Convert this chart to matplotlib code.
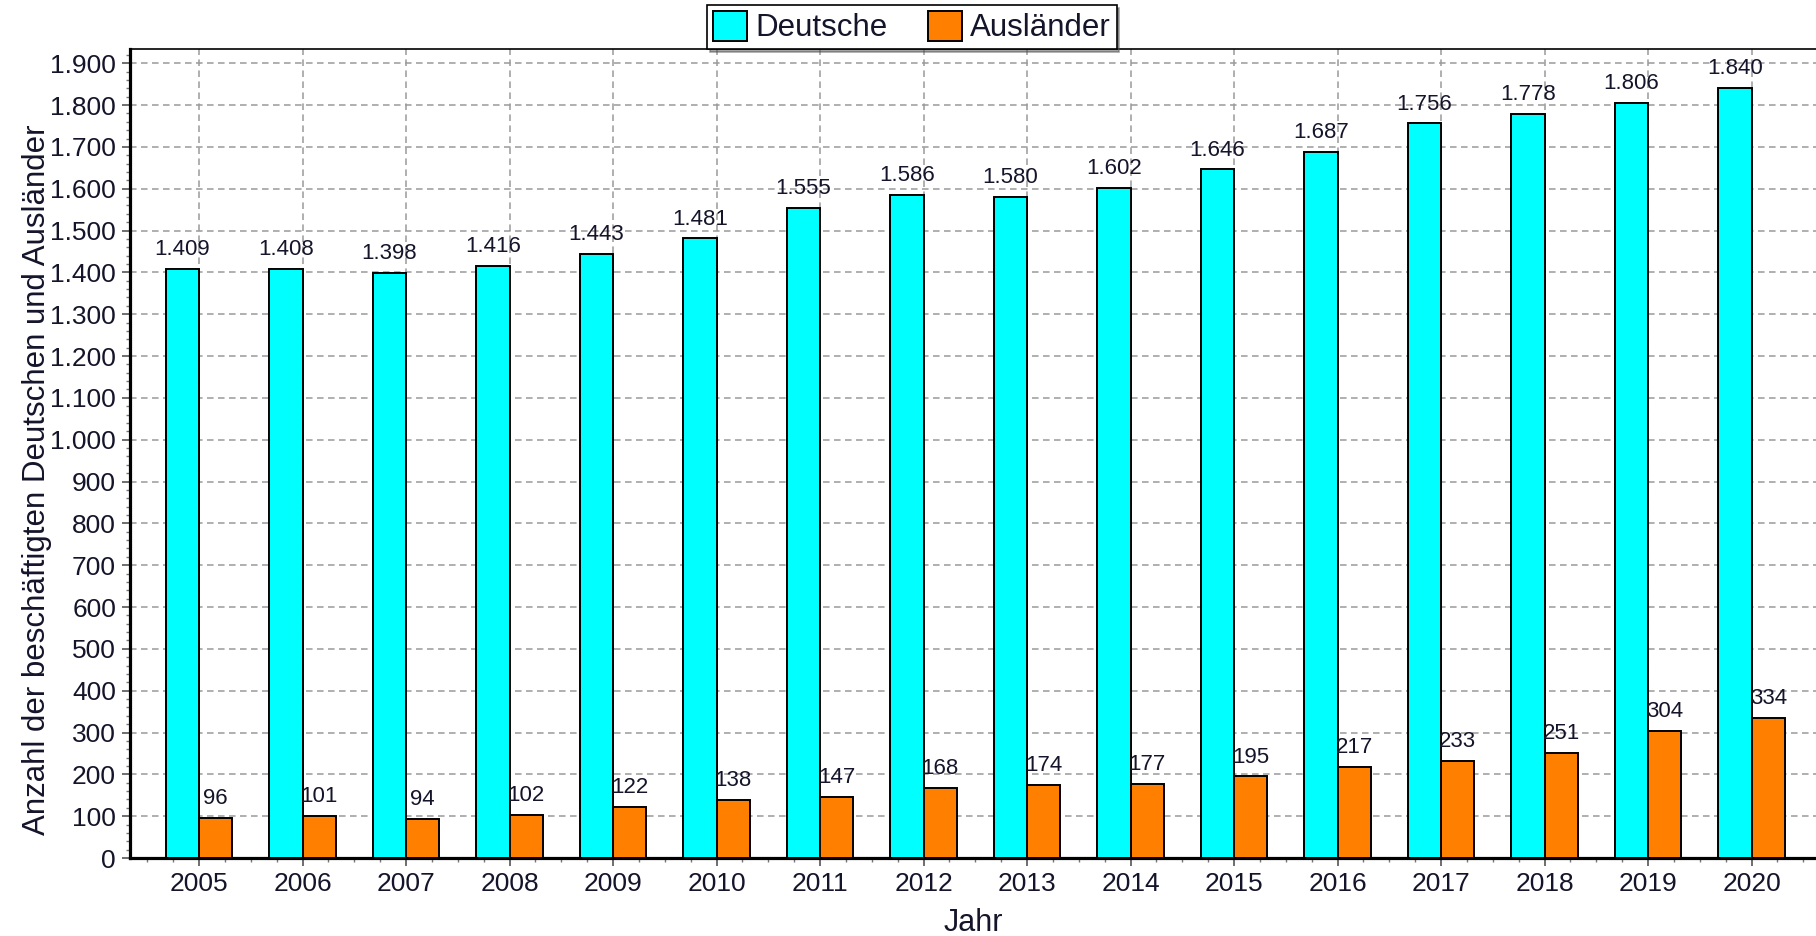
import numpy as np
import matplotlib
matplotlib.use("Agg")
import matplotlib.pyplot as plt
from matplotlib.ticker import FuncFormatter, MultipleLocator

# ==========================
# DATEN
# ==========================

jahre = [2005, 2006, 2007, 2008, 2009, 2010, 2011, 2012,
         2013, 2014, 2015, 2016, 2017, 2018, 2019, 2020]
deutsche = [1409, 1408, 1398, 1416, 1443, 1481, 1555, 1586,
            1580, 1602, 1646, 1687, 1756, 1778, 1806, 1840]
auslaender = [96, 101, 94, 102, 122, 138, 147, 168,
              174, 177, 195, 217, 233, 251, 304, 334]

CYAN = "#00FFFF"
ORANGE = "#FF8000"
TEXT = "#14142a"
GRID = "#9a9a9a"

plt.rcParams["font.family"] = ["Liberation Sans", "DejaVu Sans"]

fig = plt.figure(figsize=(18.16, 9.36), dpi=100)
ax = fig.add_axes([130 / 1816, 78 / 936, 1686 / 1816, 809 / 936])

x = np.array(jahre, dtype=float)
w = 0.322
b1 = ax.bar(x, deutsche, width=-w, align="edge", color=CYAN,
            edgecolor="black", linewidth=1.4, label="Deutsche", zorder=3)
b2 = ax.bar(x, auslaender, width=w, align="edge", color=ORANGE,
            edgecolor="black", linewidth=1.4, label="Ausländer", zorder=3)


def fmt(v, pos=None):
    return f"{int(v):,}".replace(",", ".")


# Werte über den Balken
for xi, v in zip(x, deutsche):
    ax.annotate(fmt(v), (xi - w / 2, v), xytext=(0, 10), textcoords="offset points",
                ha="center", va="baseline", fontsize=16, color=TEXT, zorder=4)
for xi, v in zip(x, auslaender):
    ax.annotate(fmt(v), (xi + w / 2, v), xytext=(0, 10), textcoords="offset points",
                ha="center", va="baseline", fontsize=16, color=TEXT, zorder=4)

# Achsen
ax.set_xlim(2004.333, 2004.333 + 1686 / 103.5)
ax.set_ylim(0, 1934)
ax.set_xticks(jahre)
ax.xaxis.set_minor_locator(MultipleLocator(0.25))
ax.yaxis.set_major_locator(MultipleLocator(100))
ax.yaxis.set_minor_locator(MultipleLocator(20))
ax.yaxis.set_major_formatter(FuncFormatter(fmt))

ax.tick_params(axis="both", which="major", labelsize=19, labelcolor=TEXT,
               length=6, width=1.2, color="#555555", pad=4)
ax.tick_params(axis="both", which="minor", length=3, width=1.0, color="#777777")

ax.grid(True, which="major", color=GRID, linestyle=(0, (4.3, 2.9)),
        linewidth=1.1, zorder=0)
ax.set_axisbelow(True)

ax.spines["left"].set_linewidth(2.3)
ax.spines["bottom"].set_linewidth(2.3)
ax.spines["top"].set_linewidth(1.2)
ax.spines["right"].set_visible(False)

ax.set_xlabel("Jahr", fontsize=22, color=TEXT, labelpad=8.5)
ax.set_ylabel("Anzahl der beschäftigten Deutschen und Ausländer",
              fontsize=22.5, color=TEXT)
ax.yaxis.set_label_coords(-0.0463, 0.468)

# Legende oben mit Schatten
leg = fig.legend(handles=[b1, b2], loc="center", bbox_to_anchor=(912 / 1816, 1 - 27 / 936),
                 ncol=2, fontsize=22.5, frameon=True, fancybox=False, shadow=True,
                 edgecolor="black", handlelength=1.1, handleheight=1.1,
                 handletextpad=0.25, columnspacing=1.3, borderpad=0.18,
                 borderaxespad=0)
leg.get_frame().set_linewidth(1.2)
for t in leg.get_texts():
    t.set_color(TEXT)

fig.savefig("out.png", dpi=100)
